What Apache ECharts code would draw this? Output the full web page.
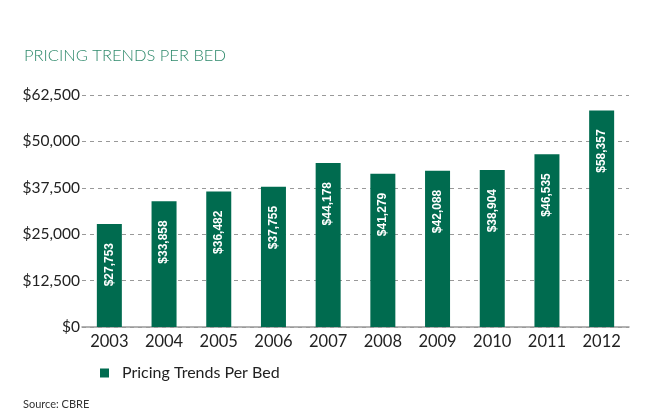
<!DOCTYPE html>
<html>
<head>
<meta charset="utf-8">
<script src="https://cdn.jsdelivr.net/npm/echarts@6/dist/echarts.min.js"></script>
<style>
  html, body { margin: 0; padding: 0; background: #fff; }
  #main { width: 651px; height: 416px; }
</style>
</head>
<body>
<div id="main"></div>
<script>
// Years on the x axis
var years = ["2003", "2004", "2005", "2006", "2007", "2008", "2009", "2010", "2011", "2012"];
// Bar heights (2010 bar is drawn taller than its printed label)
var barValues = [27753, 33858, 36482, 37755, 44178, 41279, 42088, 42300, 46535, 58357];
// Labels printed inside the bars
var barLabels = ["$27,753", "$33,858", "$36,482", "$37,755", "$44,178", "$41,279", "$42,088", "$38,904", "$46,535", "$58,357"];
// Y axis ticks
var yTicks = [0, 12500, 25000, 37500, 50000, 62500];

var green = "#006b4f";

function money(v){
    return "$" + v.toString().replace(/\B(?=(\d{3})+(?!\d))/g, ",");
}

var chart = echarts.init(document.getElementById("main"));

chart.setOption({
    animation: false,
    textStyle: { fontFamily: "Lato" },
    title: [
        {
            text: "PRICING TRENDS PER BED",
            left: 19, top: 42,
            textStyle: { color: "#2f8a6c", fontSize: 16.5, fontWeight: 300, fontFamily: "Lato" }
        },
        {
            text: "Source: CBRE",
            left: 18, top: 394,
            textStyle: { color: "#333", fontSize: 11, fontWeight: "normal", fontFamily: "Lato" }
        }
    ],
    legend: {
        left: 95, top: 360,
        itemWidth: 9, itemHeight: 9, itemGap: 10,
        icon: "rect",
        textStyle: { fontSize: 16, color: "#222", padding: [0, 0, 0, 8] },
        data: ["Pricing Trends Per Bed"]
    },
    grid: { left: 82, right: 22, top: 95, bottom: 89, containLabel: false },
    xAxis: {
        type: "category",
        data: years,
        axisTick: { show: false },
        axisLine: { lineStyle: { color: "#999", width: 1.5 } },
        axisLabel: { color: "#222", fontSize: 16.5, margin: 6 }
    },
    yAxis: {
        type: "value",
        min: yTicks[0],
        max: yTicks[yTicks.length - 1],
        interval: 12500,
        axisLine: { show: false },
        axisTick: { show: false },
        axisLabel: { color: "#222", fontSize: 15.5, margin: 2, formatter: money },
        splitLine: { lineStyle: { color: "#999", type: [4, 4], width: 1 } }
    },
    series: [{
        name: "Pricing Trends Per Bed",
        type: "bar",
        data: barValues,
        barWidth: 25,
        itemStyle: { color: green },
        label: {
            show: true,
            position: "insideTop",
            distance: 19,
            rotate: 90,
            align: "right",
            verticalAlign: "middle",
            color: "#fff",
            fontSize: 12,
            fontWeight: "bold",
            fontFamily: "Liberation Sans",
            formatter: function (p) { return barLabels[p.dataIndex]; }
        }
    }]
});
</script>
</body>
</html>
